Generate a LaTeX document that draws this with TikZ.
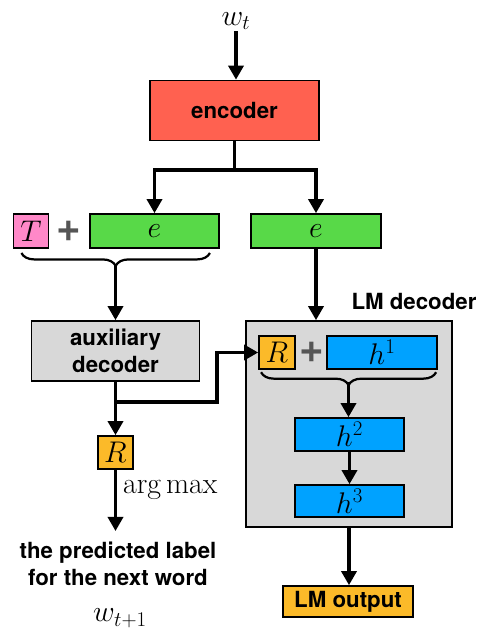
\RequirePackage{fix-cm}
\documentclass[tikz,border=0pt]{standalone}
\usepackage{amsmath}
\usepackage{fontspec}
\setsansfont{TeX Gyre Heros}
\usetikzlibrary{arrows.meta,decorations.pathreplacing}

\definecolor{encred}{RGB}{255,97,80}
\definecolor{embgreen}{RGB}{88,217,72}
\definecolor{tagpink}{RGB}{255,136,200}
\definecolor{decgray}{RGB}{216,216,216}
\definecolor{hidblue}{RGB}{0,162,255}
\definecolor{reworange}{RGB}{251,186,41}
\definecolor{plusgray}{RGB}{85,85,85}

\begin{document}
\begin{tikzpicture}[x=0.03cm, y=-0.03cm,
    box/.style={draw=black, line width=1.5pt, inner sep=0pt},
    lbl/.style={font=\sffamily\bfseries\fontsize{19}{23}\selectfont},
    sym/.style={font=\fontsize{25.5}{29}\selectfont},
    plus/.style={font=\sffamily\bfseries\fontsize{36}{36}\selectfont, text=plusgray, inner sep=0pt},
    wire/.style={line width=2.6pt},
    arr/.style={line width=2.6pt, -{Triangle[width=13pt,length=12pt]}},
    brc/.style={decorate, decoration={brace, mirror, amplitude=11pt}, line width=1.9pt}]
        \useasboundingbox (0,0) rectangle (481,637);

        % encoder part
        \node[sym, inner sep=1pt] (wt) at (236,21) {$w_t$};
        \node[box, lbl, fill=encred, minimum width=5.07cm, minimum height=1.8cm] (enc) at (234.5,110.5) {encoder};
        \coordinate (split) at (234.5,170);

        \node[box, sym, fill=tagpink, minimum width=1.05cm, minimum height=1.02cm] (T) at (31,231) {$T$};
        \node[plus] (plusA) at (69,231) {+};
        \node[box, sym, fill=embgreen, minimum width=3.87cm, minimum height=1.02cm] (eL) at (154.5,231) {$e$};
        \node[box, sym, fill=embgreen, minimum width=3.9cm, minimum height=1.02cm] (eR) at (316,231) {$e$};
        \coordinate (tipA) at (115.5,266);

        % auxiliary decoder
        \node[box, lbl, fill=decgray, align=center, minimum width=5.04cm, minimum height=1.8cm] (aux) at (115.5,351) {auxiliary\\decoder};
        \node[box, sym, fill=reworange, minimum width=1.05cm, minimum height=0.99cm] (R2) at (115.5,452.5) {$R$};
        \node[sym, anchor=west] (amax) at (119,490) {$\arg\max$};
        \node[lbl, align=center] (pred) at (118,564) {the predicted label\\for the next word};
        \node[sym] (wnext) at (120,618) {$w_{t+1}$};
        \coordinate (fork) at (115.5,402);
        \coordinate (bend) at (217,352.5);

        % LM decoder
        \node[box, fill=decgray, minimum width=6.18cm, minimum height=6.18cm] (lm) at (349,424) {};
        \node[lbl] (lmname) at (414,301) {LM decoder};
        \node[box, sym, fill=reworange, minimum width=1.08cm, minimum height=0.99cm] (R1) at (277,352.5) {$R$};
        \node[plus] (plusB) at (312,352.5) {+};
        \node[box, sym, fill=hidblue, minimum width=3.3cm, minimum height=0.99cm] (h1) at (382,352.5) {$h^1$};
        \node[box, sym, fill=hidblue, minimum width=3.27cm, minimum height=0.99cm] (h2) at (349.5,434.5) {$h^2$};
        \node[box, sym, fill=hidblue, minimum width=3.27cm, minimum height=0.96cm] (h3) at (349.5,501) {$h^3$};
        \coordinate (tipB) at (348.5,382);
        \node[box, lbl, fill=reworange, minimum width=3.9cm, minimum height=0.93cm] (out) at (348,601.5) {LM output};

        \draw[arr] (wt) -- (wt |- enc.north);
        \draw[wire] (enc.south) -- (split);
        \draw[arr] (split) -| (eL.north);
        \draw[arr] (split) -| (eR.north);
        \draw[brc] ([xshift=7.5pt,yshift=-3.5pt]T.south west) -- ([xshift=-8.5pt,yshift=-3.5pt]eL.south east);
        \draw[arr] (tipA) -- (tipA |- aux.north);
        \draw[arr] (eR.south) -- (eR.south |- lm.north);

        \draw[arr] (aux.south) -- (R2.north);
        \draw[arr] (fork) -| (bend) -- (R1.west);
        \draw[arr] (R2.south) -- ([yshift=6pt]R2.south |- pred.north);

        \draw[brc] ([xshift=2.5pt,yshift=-2pt]R1.south west) -- ([xshift=-1.5pt,yshift=-2pt]h1.south east);
        \draw[arr] (tipB) -- (tipB |- h2.north);
        \draw[arr] (h2) -- (h3);
        \draw[arr] (lm.south) -- (lm.south |- out.north);
    \end{tikzpicture}
\end{document}
